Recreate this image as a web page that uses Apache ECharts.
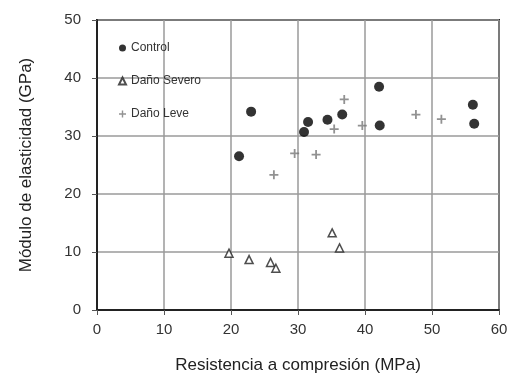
<!DOCTYPE html>
<html><head><meta charset="utf-8">
<script src="https://cdn.jsdelivr.net/npm/echarts@6/dist/echarts.min.js"></script>
<style>html,body{margin:0;padding:0;background:#fff}#c{width:517px;height:387px}</style>
</head><body><div id="c"></div>
<script>
const controlX = [23.0, 21.2, 31.5, 30.9, 34.4, 36.6, 42.1, 42.2, 56.1, 56.3];
const controlY = [34.2, 26.5, 32.4, 30.7, 32.8, 33.7, 38.5, 31.8, 35.4, 32.1];
const severoX = [19.7, 22.7, 25.9, 26.7, 35.1, 36.2];
const severoY = [9.8, 8.7, 8.2, 7.2, 13.3, 10.7];
const leveX = [26.4, 29.5, 32.7, 35.4, 36.9, 39.6, 47.6, 51.4];
const leveY = [23.3, 27.0, 26.8, 31.2, 36.3, 31.8, 33.7, 32.9];
const seriesNames = ['Control', 'Daño Severo', 'Daño Leve'];
const xTitle = 'Resistencia a compresión (MPa)';
const yTitle = 'Módulo de elasticidad (GPa)';

const zip = (a, b) => a.map((v, i) => [v, b[i]]);
const crossPath = 'path://M4,0 L6,0 L6,4 L10,4 L10,6 L6,6 L6,10 L4,10 L4,6 L0,6 L0,4 L4,4 Z';
const font = 'Liberation Sans, Arial, sans-serif';

const chart = echarts.init(document.getElementById('c'));
chart.setOption({
  backgroundColor: '#fff',
  animation: false,
  grid: { left: 97, right: 18, top: 20, bottom: 77, show: true, borderColor: '#222', borderWidth: 2 },
  legend: {
    orient: 'vertical', left: 113, top: 37, itemGap: 21, itemWidth: 7, itemHeight: 7,
    textStyle: { fontFamily: font, fontSize: 12, color: '#333' },
    data: seriesNames
  },
  xAxis: {
    type: 'value', min: 0, max: 60, interval: 10,
    name: xTitle, nameLocation: 'middle', nameGap: 47,
    nameTextStyle: { fontFamily: font, fontSize: 17, color: '#222' },
    axisLine: { show: true, lineStyle: { color: '#222', width: 2 } },
    axisTick: { show: true, length: 5, lineStyle: { color: '#555' } },
    axisLabel: { fontFamily: font, fontSize: 15, color: '#333', margin: 12 },
    splitLine: { show: true, lineStyle: { color: '#9a9a9a', width: 1.5 } }
  },
  yAxis: {
    type: 'value', min: 0, max: 50, interval: 10,
    name: yTitle, nameLocation: 'middle', nameGap: 62,
    nameTextStyle: { fontFamily: font, fontSize: 17, color: '#222' },
    axisLine: { show: true, lineStyle: { color: '#222', width: 2 } },
    axisTick: { show: true, length: 5, lineStyle: { color: '#555' } },
    axisLabel: { fontFamily: font, fontSize: 15, color: '#333', margin: 16 },
    splitLine: { show: true, lineStyle: { color: '#9a9a9a', width: 1.5 } }
  },
  series: [
    { name: seriesNames[0], type: 'scatter', data: zip(controlX, controlY),
      symbol: 'circle', symbolSize: 10, itemStyle: { color: '#000' } },
    { name: seriesNames[1], type: 'scatter', data: zip(severoX, severoY),
      symbol: 'triangle', symbolSize: 8, itemStyle: { color: '#fff', borderColor: '#222', borderWidth: 1.5 } },
    { name: seriesNames[2], type: 'scatter', data: zip(leveX, leveY),
      symbol: crossPath, symbolSize: 9, itemStyle: { color: '#777' } }
  ]
});
</script></body></html>
